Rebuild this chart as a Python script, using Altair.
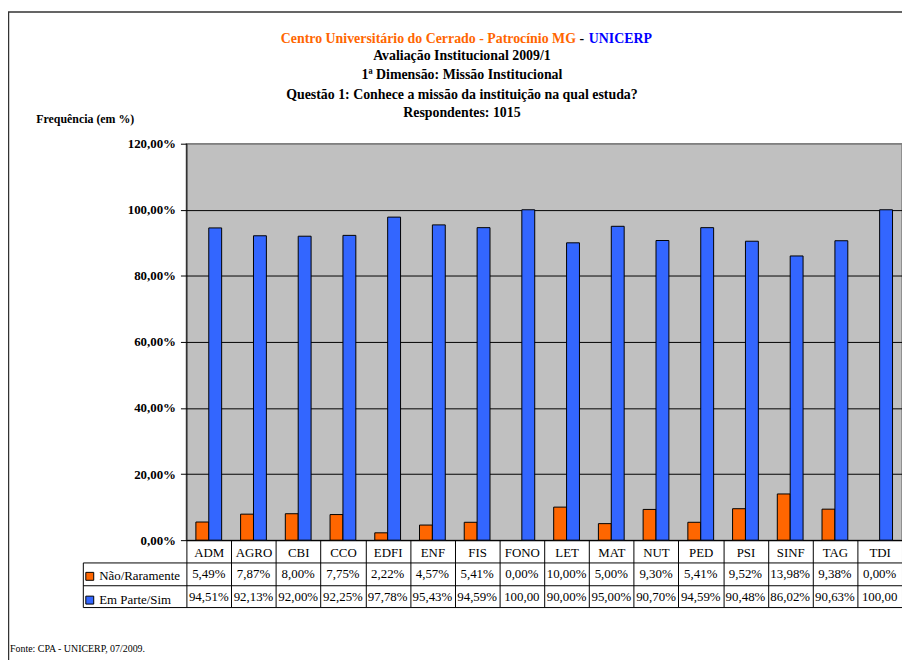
import altair as alt
import pandas as pd

cats = ["ADM", "AGRO", "CBI", "CCO", "EDFI", "ENF", "FIS", "FONO", "LET",
        "MAT", "NUT", "PED", "PSI", "SINF", "TAG", "TDI"]
nao = [5.49, 7.87, 8.00, 7.75, 2.22, 4.57, 5.41, 0.00, 10.00, 5.00, 9.30,
       5.41, 9.52, 13.98, 9.38, 0.00]
sim = [94.51, 92.13, 92.00, 92.25, 97.78, 95.43, 94.59, 100.00, 90.00,
       95.00, 90.70, 94.59, 90.48, 86.02, 90.63, 100.00]
series = ["Não/Raramente", "Em Parte/Sim"]
colors = ["#FF6600", "#3366FF"]
yticks = [0, 20, 40, 60, 80, 100, 120]

title_orange = "Centro Universitário do Cerrado - Patrocínio MG"
title_blue = "UNICERP"
title_lines = ["Avaliação Institucional 2009/1",
               "1ª Dimensão: Missão Institucional",
               "Questão 1: Conhece a missão da instituição na qual estuda?",
               "Respondentes: 1015"]
ytitle = "Frequência (em %)"
footer = "Fonte: CPA - UNICERP, 07/2009."

W, H = 722, 400
FONT = "Liberation Serif"

rows = []
for i, c in enumerate(cats):
    rows.append({"cat": c, "serie": series[0], "v": nao[i]})
    rows.append({"cat": c, "serie": series[1], "v": sim[i]})
df = pd.DataFrame(rows)

one = alt.Data(values=[{}])

label_expr = "replace(format(datum.value, '.2f'), '.', ',') + '%'"

xaxis = alt.Axis(title=None, orient="bottom", tickBand="extent",
                 tickSize=67, tickColor="black", tickWidth=1,
                 domainColor="black", domainWidth=1,
                 labelFont=FONT, labelFontSize=13, labelColor="black",
                 labelAngle=0, labelPadding=-55, labelBaseline="middle",
                 labelOverlap=False, grid=False)
xscale = alt.Scale(paddingInner=0, paddingOuter=0)

bars = alt.Chart(df).transform_filter("datum.v > 0").mark_bar(
    stroke="black", strokeWidth=1
).encode(
    x=alt.X("cat:N", sort=cats, scale=xscale, axis=xaxis),
    xOffset=alt.XOffset("serie:N", sort=series,
                        scale=alt.Scale(paddingInner=0, paddingOuter=0.735)),
    y=alt.Y("v:Q", scale=alt.Scale(domain=[0, 120], nice=False),
            axis=alt.Axis(values=yticks, labelExpr=label_expr, title=ytitle,
                          titleAngle=0, titleAlign="left", titleBaseline="middle",
                          titleX=-152, titleY=-25, titleFont=FONT,
                          titleFontSize=12, titleFontWeight="bold",
                          titleColor="black",
                          labelFont=FONT, labelFontSize=13, labelFontWeight="bold",
                          labelColor="black", labelPadding=5,
                          tickSize=6, tickColor="black", domainColor="black",
                          grid=True, gridWidth=1,
                          gridColor=alt.condition("datum.value >= 120",
                                                  alt.value("#808080"),
                                                  alt.value("black")))),
    color=alt.Color("serie:N", scale=alt.Scale(domain=series, range=colors),
                    legend=alt.Legend(title=None, orient="none", legendX=-104,
                                      legendY=430, direction="vertical",
                                      symbolType="square", symbolSize=64,
                                      symbolStrokeColor="black",
                                      symbolStrokeWidth=1,
                                      labelFont=FONT, labelFontSize=13,
                                      labelColor="black", rowPadding=10,
                                      padding=0, labelOffset=3)),
)

fmt = "replace(format(datum.v, '.2f'), '.', ',') + (datum.v >= 100 ? '' : '%')"

def row_text(serie, ypix):
    return alt.Chart(df).transform_filter(
        alt.datum.serie == serie
    ).transform_calculate(lbl=fmt).mark_text(
        font=FONT, fontSize=13, color="black", baseline="middle"
    ).encode(
        x=alt.X("cat:N", sort=cats, scale=xscale, axis=xaxis),
        y=alt.value(ypix),
        text="lbl:N",
    )

t_nao = row_text(series[0], 434)
t_sim = row_text(series[1], 457)

def hrule(y, x0=-104):
    return alt.Chart(one).mark_rule(color="black", strokeWidth=1).encode(
        x=alt.value(x0), x2=alt.value(W + 20), y=alt.value(y))

lines = [hrule(423), hrule(446), hrule(468)]
vline = alt.Chart(one).mark_rule(color="black", strokeWidth=1).encode(
    x=alt.value(-104), y=alt.value(423), y2=alt.value(468))

frame = alt.Chart(one).mark_rect(fill="white", fillOpacity=0, stroke="#333333",
                                 strokeWidth=1.5).encode(
    x=alt.value(-179.5), x2=alt.value(W + 60),
    y=alt.value(-133), y2=alt.value(H + 200))

def txt(s, x, y, color="black", align="center", size=14, weight="bold"):
    return alt.Chart(alt.Data(values=[{"t": s}])).mark_text(
        font=FONT, fontSize=size, fontWeight=weight, color=color,
        align=align, baseline="middle"
    ).encode(x=alt.value(x), y=alt.value(y), text="t:N")

titles = [
    txt(title_orange, 393, -106, color="#FF6600", align="right"),
    txt("-", 399, -106),
    txt(title_blue, 406, -106, color="#0000FF", align="left"),
]
for i, line in enumerate(title_lines):
    titles.append(txt(line, 278, [-88, -69, -49, -31][i]))

foot = txt(footer, -178, 510, align="left", size=10, weight="normal")

chart = alt.layer(
    frame, bars, t_nao, t_sim, *lines, vline, *titles, foot
).properties(
    width=W, height=H,
    autosize=alt.AutoSizeParams(type="none"),
    padding={"left": 180, "top": 134, "right": 0, "bottom": 118},
    background="white",
).configure_view(
    fill="#C0C0C0", stroke="#808080", strokeWidth=1.5
).configure_legend(
    labelFont=FONT
)

chart.save("out.html", embed_options={"renderer": "svg", "actions": False})
